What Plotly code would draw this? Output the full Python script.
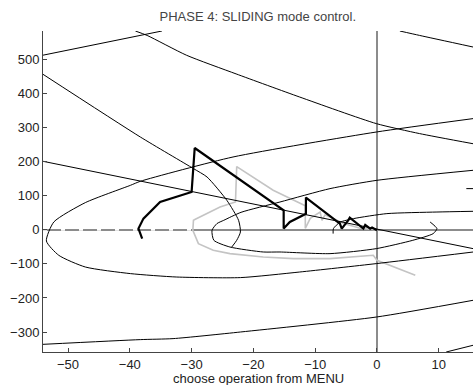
import plotly.graph_objects as go

# ---- axis ranges / ticks ----
x_range = [-54.05, 15.54]
y_range = [-358.7, 584.0]
x_ticks = [-50, -40, -30, -20, -10, 0, 10]
y_ticks = [-300, -200, -100, 0, 100, 200, 300, 400, 500]

# ---- thin black curves ----
line_a_x = [-54.05, -34.8]
line_a_y = [513, 584]

curve_b_x = [-39.1, -37.2, -30.8, -22.8, -12.5, -0.1, 6.9, 15.54]
curve_b_y = [584, 571, 512.6, 458, 390, 312, 282.7, 253]

curve_c_x = [3.7, 6.9, 15.54]
curve_c_y = [584, 571, 537]

curve_d_x = [-54.05, -38.3, -29.7, -27.5, -24.3, -22.4, -22.1, -22.7, -23.5]
curve_d_y = [456.8, 272.7, 179.9, 155.2, 86.8, 28.0, -6.3, -30.7, -50.4]

slide_x = [-54.05, 15.54]
slide_y = [201.3, -55.1]

outer_x = [15.54, -0.1, -12.5, -22.1, -32.4, -39.9, -47.2, -51.5, -53.5, -52.3,
           -47.2, -39.9, -38.3, -23.3, -0.1, 15.54]
outer_y = [-65.1, -99.1, -123.8, -140.2, -138.5, -128.5, -109.1, -74.7, -32.7, 23.1,
           80.0, 130.8, 142.6, 214.0, 287.4, 326.7]

bottom_x = [-54.05, -38.3, -33.0, -22.1, -0.1, 15.54]
bottom_y = [-336.2, -322.3, -319.4, -300.0, -256.0, -206.9]

corner_x = [11.2, 15.54]
corner_y = [-358.7, -339.0]

dash_x = [14.46, 15.54]
dash_y = [121.1, 121.1]

mid_x = [15.54, 0.0, -7.6, -15.7, -22.0, -24.8, -25.9, -26.7, -26.4, -23.8, -18.4,
         -15.7, -7.6, -0.1, 5.8, 9.1, 9.7, 8.6]
mid_y = [174.9, 145.5, 121.1, 81.8, 51.5, 28.0, 18.4, -1.3, -30.7, -50.4, -65.0,
         -65.0, -69.8, -55.1, -30.7, -11.0, 3.7, 23.1]

inner_x = [-7.1, -7.05, -6.0, -3.8, 1.6, 9.7, 15.54]
inner_y = [-11.0, 3.7, 22.2, 33.0, 47.7, 52.4, 54.5]

# ---- thick black sliding trajectory ----
thick_x = [-38.0, -38.6, -37.8, -35.1, -30.0, -29.5, -15.1, -15.1, -14.1, -11.9, -11.5,
           -11.5, -6.0, -5.7, -5.1, -4.6, -4.4, -2.2, -1.9, -1.1, -0.8, 0.0]
thick_y = [-25.7, 3.7, 33.0, 81.8, 111.2, 240.4, 57.4, 3.7, 23.1, 42.7, 47.1,
           94.7, 18.4, 3.7, 16.3, 29.5, 36.0, 3.7, 14.8, 3.7, 6.6, -1.3]

# ---- light grey trajectory ----
grey_x = [6.2, 0.0, -0.6, -7.6, -13.5, -18.4, -23.8, -26.5, -28.9, -29.8, -29.7, -29.4,
          -25.4, -22.9, -22.7, -16.8, -11.6, -11.6, -10.8, -9.2, -8.9, -8.4, -5.4, -2.7, 0.0]
grey_y = [-133.4, -89.4, -74.7, -84.4, -84.4, -79.7, -69.8, -60.0, -40.4, -1.3, 28.0, 31.0,
          67.1, 81.8, 185.8, 116.2, 70.6, 4.6, 33.9, 52.4, 28.0, 44.2, 18.4, 4.6, 0.0]

# ---- white dashes over the zero line ----
white_x = [-54.05, -29.5]
white_y = [0, 0]

fig = go.Figure()

fig.add_trace(go.Scatter(x=white_x, y=white_y, mode="lines",
                         line=dict(color="white", width=2, dash="4px,14px")))
fig.add_trace(go.Scatter(x=grey_x, y=grey_y, mode="lines",
                         line=dict(color="#c4c4c4", width=1.6)))

thin = [(line_a_x, line_a_y), (curve_b_x, curve_b_y), (curve_c_x, curve_c_y),
        (curve_d_x, curve_d_y), (slide_x, slide_y), (outer_x, outer_y),
        (bottom_x, bottom_y), (corner_x, corner_y), (dash_x, dash_y),
        (mid_x, mid_y), (inner_x, inner_y)]
for xs, ys in thin:
    fig.add_trace(go.Scatter(x=xs, y=ys, mode="lines",
                             line=dict(color="black", width=1, shape="spline", smoothing=0.6)))

fig.add_trace(go.Scatter(x=thick_x, y=thick_y, mode="lines",
                         line=dict(color="black", width=2.2)))

axis_font = dict(family="Liberation Sans, Arial, sans-serif", size=13, color="#222")

fig.update_layout(
    width=473, height=385,
    margin=dict(l=43, r=0, t=31, b=33),
    paper_bgcolor="white", plot_bgcolor="white",
    showlegend=False,
    font=axis_font,
    title=dict(text="PHASE 4: SLIDING mode control.", x=0.545, xanchor="center",
               y=0.958, yanchor="middle",
               font=dict(family="Liberation Sans, Arial, sans-serif", size=13, color="#444")),
    annotations=[dict(text="choose operation from MENU", xref="paper", yref="paper",
                      x=0.5, y=-0.084, xanchor="center", yanchor="middle", showarrow=False,
                      font=dict(family="Liberation Sans, Arial, sans-serif", size=13, color="#222"))],
)

fig.update_xaxes(range=x_range, tickvals=x_ticks, showgrid=False,
                 showline=True, linecolor="#444", linewidth=1, mirror=False,
                 ticks="inside", ticklen=4, tickcolor="#444",
                 zeroline=True, zerolinecolor="#8c8c8c", zerolinewidth=1.6,
                 tickfont=axis_font)
fig.update_yaxes(range=y_range, tickvals=y_ticks, showgrid=False,
                 showline=True, linecolor="#444", linewidth=1, mirror=False,
                 ticks="inside", ticklen=4, tickcolor="#444",
                 zeroline=True, zerolinecolor="#8c8c8c", zerolinewidth=1.6,
                 tickfont=axis_font)

fig.write_html("out.html")
